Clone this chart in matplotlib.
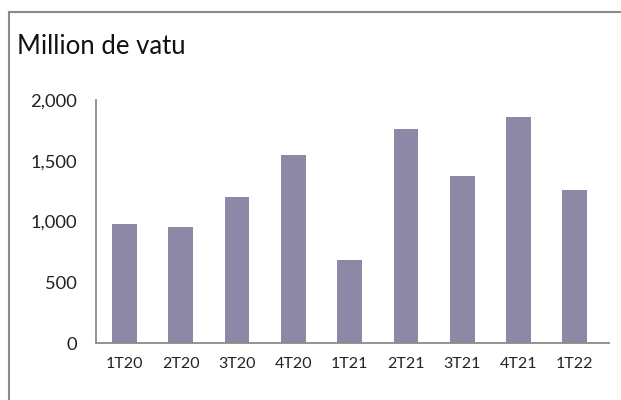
import numpy as np
import matplotlib.pyplot as plt
from matplotlib.patches import Rectangle

quarters = ['1T20', '2T20', '3T20', '4T20', '1T21', '2T21', '3T21', '4T21', '1T22']
values = [980, 955, 1200, 1547, 683, 1761, 1374, 1860, 1259]
yticks = [0, 500, 1000, 1500, 2000]

plt.rcParams['font.family'] = ['Lato', 'DejaVu Sans']

fig = plt.figure(figsize=(6.21, 4.0), dpi=100)
ax = fig.add_axes([0.155, 0.1425, 0.825, 0.6075])

x = np.arange(len(quarters))
ax.bar(x, values, width=0.44, color='#8C88A5')

ax.set_xlim(-0.5, 8.6)
ax.set_ylim(0, 2000)
ax.set_xticks(x)
ax.set_xticklabels(quarters, fontsize=11.5)
ax.set_yticks(yticks)
ax.set_yticklabels(['{:,}'.format(v) for v in yticks], fontsize=13.2)
ax.tick_params(axis='both', length=0, colors='#222222')
ax.tick_params(axis='y', pad=14)
ax.tick_params(axis='x', pad=10)

for s in ['top', 'right']:
    ax.spines[s].set_visible(False)
for s in ['left', 'bottom']:
    ax.spines[s].set_color('#8a8a8a')
    ax.spines[s].set_linewidth(1.3)

fig.text(0.028, 0.885, 'Million de vatu', fontsize=18.5, color='#111111', va='center')

# outer frame, cut off on right and bottom
fig.patches.append(Rectangle((0.0145, -0.2), 2, 0.97 + 0.2, transform=fig.transFigure,
                             fill=False, edgecolor='#8a8a8a', linewidth=1.5, clip_on=False))

fig.savefig('out.png', dpi=100)
